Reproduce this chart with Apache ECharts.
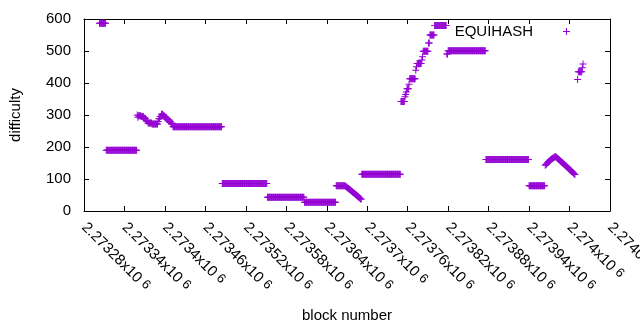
<!DOCTYPE html>
<html>
<head>
<meta charset="utf-8">
<script src="https://cdn.jsdelivr.net/npm/echarts@6/dist/echarts.min.js"></script>
<style>
html,body{margin:0;padding:0;background:#fff;}
#chart{width:640px;height:330px;}
</style>
</head>
<body>
<div id="chart"></div>
<script>
// ---- data ----
const seriesName = 'EQUIHASH';
const xTickLabels = ['2.27328','2.27334','2.2734','2.27346','2.27352','2.27358','2.27364','2.2737','2.27376','2.27382','2.27388','2.27394','2.274','2.27406'];
const yTicks = [0, 100, 200, 300, 400, 500, 600];

// flat runs of difficulty: block range [runStart, runEnd] with value runValue
const runStart = [2273303,2273313,2273359,2273360,2273361,2273365,2273369,2273372,2273375,2273381,2273390,2273391,2273393,2273395,2273398,2273400,2273403,2273406,2273409,2273412,2273485,2273552,2273607,2273654,2273692,2273750,2273756,2273757,2273758,2273759,2273762,2273763,2273772,2273773,2273774,2273781,2273782,2273783,2273791,2273793,2273800,2273818,2273820,2273876,2273940,2274012,2274013,2274019,2274020];
const runEnd   = [2273312,2273358,2273359,2273360,2273364,2273368,2273371,2273374,2273380,2273389,2273390,2273392,2273394,2273397,2273399,2273402,2273405,2273408,2273411,2273484,2273551,2273606,2273653,2273667,2273749,2273755,2273756,2273757,2273758,2273761,2273762,2273771,2273772,2273773,2273780,2273781,2273782,2273790,2273792,2273799,2273817,2273819,2273875,2273939,2273963,2274012,2274018,2274019,2274020];
const runValue = [587,190,300,293,298,295,290,282,275,272,280,288,295,302,298,292,286,280,274,263,86,43,27,79,115,342,357,364,372,382,396,413,440,451,461,472,482,499,525,550,580,491,501,161,79,411,435,448,459];

// block-by-block readings (consecutive blocks starting at the given block)
const rampAStart = 2273668;
const rampAValues = [77,75,74,72,70,69,67,65,64,62,60,58,57,55,53,51,50,48,46,44,42,40,38,37];
const rampBStart = 2273964;
const rampBValues = [143,145,147,150,152,154,156,158,160,162,163,165,166,168,169,170,168,167,165,163,161,159,157,155,153,151,150,148,146,144,142,140,138,136,134,132,130,128,126,124,122,120,118,116,114];

// ---- build points ----
const points = [];
for (let i = 0; i < runStart.length; i++) {
  for (let b = runStart[i]; b <= runEnd[i]; b++) points.push([b, runValue[i]]);
}
rampAValues.forEach((v, j) => points.push([rampAStart + j, v]));
rampBValues.forEach((v, j) => points.push([rampBStart + j, v]));
points.sort((a, b) => a[0] - b[0]);

const xMin = 2273280, xMax = 2274060, xStep = 60;
const plus = 'path://M0,3H7V4H0ZM3,0H4V7H3Z';
const color = '#9400D3';
const font = 'Liberation Sans, Arial, sans-serif';

const chart = echarts.init(document.getElementById('chart'), null, {renderer: 'canvas'});
const axisCommon = {
  axisLine: {show: true, onZero: false, lineStyle: {color: '#000', width: 1}},
  axisTick: {show: true, inside: true, length: 5, lineStyle: {color: '#000', width: 1}},
  splitLine: {show: false}
};
chart.setOption({
  animation: false,
  backgroundColor: '#fff',
  grid: {left: 84, right: 30, top: 19, bottom: 119, containLabel: false, outerBoundsMode: 'none'},
  legend: {
    show: true,
    right: 70, top: 24, padding: 0,
    align: 'right',
    icon: plus,
    itemWidth: 7, itemHeight: 7,
    textStyle: {fontFamily: font, fontSize: 15, color: '#000', padding: [0, 25, 0, 0]},
    data: [seriesName]
  },
  xAxis: [
    Object.assign({
      type: 'value', position: 'bottom', min: xMin, max: xMax, interval: xStep,
      name: 'block number', nameLocation: 'middle', nameGap: 97,
      nameTextStyle: {fontFamily: font, fontSize: 15, color: '#000'},
      axisLabel: {
        rotate: -45, margin: 14, color: '#000',
        showMinLabel: true, showMaxLabel: true,
        formatter: function (v) {
          const i = Math.round((v - xMin) / xStep);
          return '{m|' + xTickLabels[i] + 'x10}{s|6}';
        },
        rich: {
          m: {fontFamily: font, fontSize: 15, color: '#000'},
          s: {fontFamily: font, fontSize: 13, color: '#000', padding: [0, 0, 3, 4]}
        }
      }
    }, axisCommon),
    Object.assign({
      type: 'value', position: 'top', min: xMin, max: xMax, interval: xStep,
      axisLabel: {show: false}
    }, axisCommon)
  ],
  yAxis: [
    Object.assign({
      type: 'value', position: 'left', min: yTicks[0], max: yTicks[yTicks.length - 1], interval: 100,
      name: 'difficulty', nameLocation: 'middle', nameGap: 61, nameRotate: 90,
      nameTextStyle: {fontFamily: font, fontSize: 15, color: '#000'},
      axisLabel: {margin: 13, fontFamily: font, fontSize: 15, color: '#000'}
    }, axisCommon),
    Object.assign({
      type: 'value', position: 'right', min: yTicks[0], max: yTicks[yTicks.length - 1], interval: 100,
      axisLabel: {show: false}
    }, axisCommon)
  ],
  series: [{
    name: seriesName,
    type: 'scatter',
    xAxisIndex: 0, yAxisIndex: 0,
    symbol: plus,
    symbolSize: 7,
    itemStyle: {color: color, opacity: 1},
    emphasis: {disabled: true},
    data: points
  }]
});
</script>
</body>
</html>
